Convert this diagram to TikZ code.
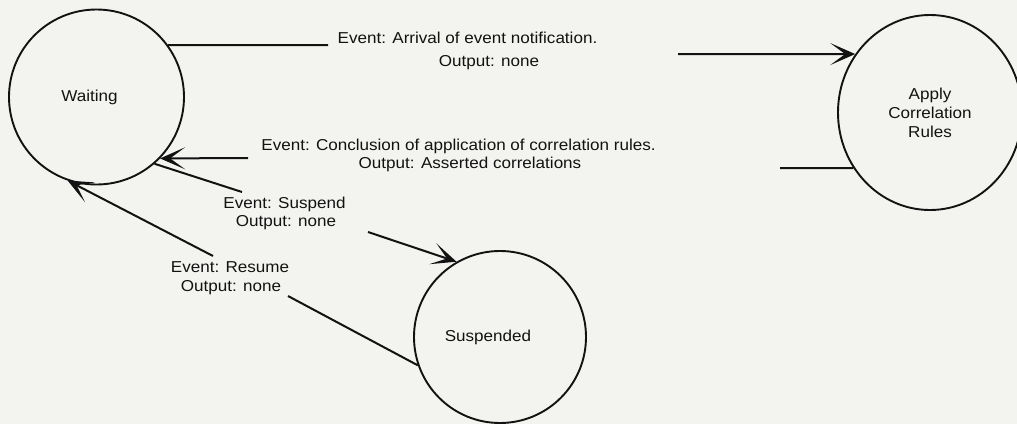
\documentclass[tikz,border=0pt]{standalone}
\usepackage{fontspec}
\setmainfont{Liberation Sans}[FakeStretch=1.08]
\usetikzlibrary{arrows.meta,shapes.geometric}
\definecolor{paper}{RGB}{243,243,239}
\definecolor{ink}{RGB}{18,18,18}
\begin{document}
\begin{tikzpicture}[x=1pt,y=-1pt,
  state/.style={circle,draw=ink,line width=1.9pt,inner sep=0pt},
  txt/.style={font=\fontsize{15.8}{19}\selectfont,text=ink},
  lbl/.style={txt,anchor=base,inner sep=0pt},
  edge/.style={draw=ink,line width=2pt},
  tip/.style={-{Stealth[length=25pt,width=22pt,inset=15pt]}}]
  % page
  \fill[paper] (0,0) rectangle (1017,424);
  \useasboundingbox (0,0) rectangle (1017,424);

  % states
  \node[state,minimum size=175pt,
        label={[txt,anchor=center,xshift=-7pt]center:Waiting}] (W) at (96.5,97) {};
  \node[state,ellipse,minimum width=184pt,minimum height=195pt,
        txt,align=center] (A) at (930,112.5) {Apply\\Correlation\\Rules};
  \node[state,minimum size=172pt,
        label={[txt,anchor=center,xshift=-12pt]center:Suspended}] (S) at (500,337) {};

  % break points of the transitions around their labels
  \coordinate (c1a) at (328,45);  \coordinate (c1b) at (678,54);
  \coordinate (c2a) at (780,168); \coordinate (c2b) at (248,158);
  \coordinate (c3a) at (242,192); \coordinate (c3b) at (368,232);
  \coordinate (c4a) at (288,296); \coordinate (c4b) at (213,256);

  % transitions
  \draw[edge] (W.36) -- (c1a);
  \draw[edge,tip] (c1b) -- (A.142);
  \draw[edge] (A.216) -- (c2a);
  \draw[edge,tip] (c2b) -- (W.-44);
  \draw[edge] (W.-49) -- (c3a);
  \draw[edge,tip] (c3b) -- (S.120);
  \draw[edge] (S.199) -- (c4a);
  \draw[edge,tip] (c4b) -- (W.251);

  % transition labels
  \node[lbl] (L1e) at (467.5,43) {Event: Arrival of event notification.};
  \node[lbl] (L1o) at (489,66) {Output: none};
  \node[lbl] (L2e) at (458.5,150) {Event: Conclusion of application of correlation rules.};
  \node[lbl] (L2o) at (470,168) {Output: Asserted correlations};
  \node[lbl] (L3e) at (284.5,208) {Event: Suspend};
  \node[lbl] (L3o) at (286,226) {Output: none};
  \node[lbl] (L4e) at (230,272) {Event: Resume};
  \node[lbl] (L4o) at (231,291) {Output: none};
\end{tikzpicture}
\end{document}
